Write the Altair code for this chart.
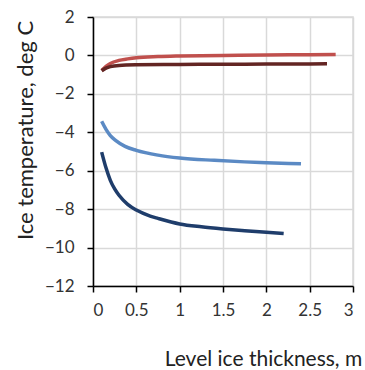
import altair as alt
import pandas as pd

series_names = ["light_red", "dark_red", "light_blue", "dark_blue"]
series_colors = ["#c0504d", "#632523", "#5b8ac4", "#1f3d6b"]

x_light_red = [0.1, 0.15, 0.2, 0.3, 0.4, 0.5, 0.75, 1.0, 1.5, 2.0, 2.5, 2.8]
y_light_red = [-0.78, -0.57, -0.42, -0.26, -0.18, -0.12, -0.06, -0.03, 0.0, 0.02, 0.04, 0.05]

x_dark_red = [0.1, 0.15, 0.2, 0.3, 0.5, 1.0, 1.5, 2.0, 2.5, 2.7]
y_dark_red = [-0.8, -0.66, -0.58, -0.52, -0.49, -0.47, -0.46, -0.45, -0.44, -0.43]

x_light_blue = [0.1, 0.15, 0.2, 0.26, 0.37, 0.5, 0.75, 1.0, 1.4, 1.75, 2.0, 2.4]
y_light_blue = [-3.43, -3.85, -4.17, -4.42, -4.73, -4.94, -5.19, -5.34, -5.46, -5.54, -5.58, -5.64]

x_dark_blue = [0.1, 0.15, 0.2, 0.25, 0.3, 0.4, 0.5, 0.66, 0.75, 1.0, 1.25, 1.5, 1.75, 2.0, 2.2]
y_dark_blue = [-5.03, -5.85, -6.5, -6.95, -7.28, -7.75, -8.05, -8.36, -8.48, -8.77, -8.92, -9.03, -9.12, -9.2, -9.27]

x_ticks = [0, 0.5, 1, 1.5, 2, 2.5, 3]
y_ticks = [2, 0, -2, -4, -6, -8, -10, -12]

rows = []
for name, xs, ys in [
    ("light_red", x_light_red, y_light_red),
    ("dark_red", x_dark_red, y_dark_red),
    ("light_blue", x_light_blue, y_light_blue),
    ("dark_blue", x_dark_blue, y_dark_blue),
]:
    for xv, yv in zip(xs, ys):
        rows.append({"series": name, "x": xv, "y": yv})
df = pd.DataFrame(rows)

FONT = "Lato"

chart = alt.Chart(df).mark_line(strokeWidth=3.5, interpolate="monotone").encode(
    x=alt.X("x:Q", scale=alt.Scale(domain=[0, 3], nice=False, zero=False),
            axis=alt.Axis(values=x_ticks, title="Level ice thickness, m",
                          format="~g", labelFontSize=17, labelPadding=10,
                          titleFontSize=21, titleFontWeight="normal",
                          titleX=170, titleY=79, titleAlign="center",
                          titleBaseline="alphabetic", titleAnchor="start")),
    y=alt.Y("y:Q", scale=alt.Scale(domain=[-12, 2], nice=False, zero=False),
            axis=alt.Axis(values=y_ticks, title="Ice temperature, deg C",
                          format="~g", labelFontSize=17, labelPadding=13,
                          titleFontSize=22, titleFontWeight="normal",
                          titleX=-61, titleY=113, titleAlign="center",
                          titleBaseline="alphabetic", titleAnchor="start")),
    color=alt.Color("series:N", scale=alt.Scale(domain=series_names, range=series_colors),
                    legend=None),
    detail="series:N",
).properties(
    width=260, height=269,
    autosize=alt.AutoSizeParams(type="none"),
    padding={"left": 93, "top": 17, "right": 12, "bottom": 84},
).configure_axis(
    labelFont=FONT, titleFont=FONT, labelColor="#333333", titleColor="#222222",
    domainColor="#000000", domainWidth=1.5, tickColor="#000000", tickWidth=1.5,
    tickSize=6, gridColor="#d9d9d9", gridWidth=1.5,
).configure_view(stroke="#d9d9d9", strokeWidth=1.5)

chart.save("out.html", embed_options={"renderer": "svg", "actions": False})
